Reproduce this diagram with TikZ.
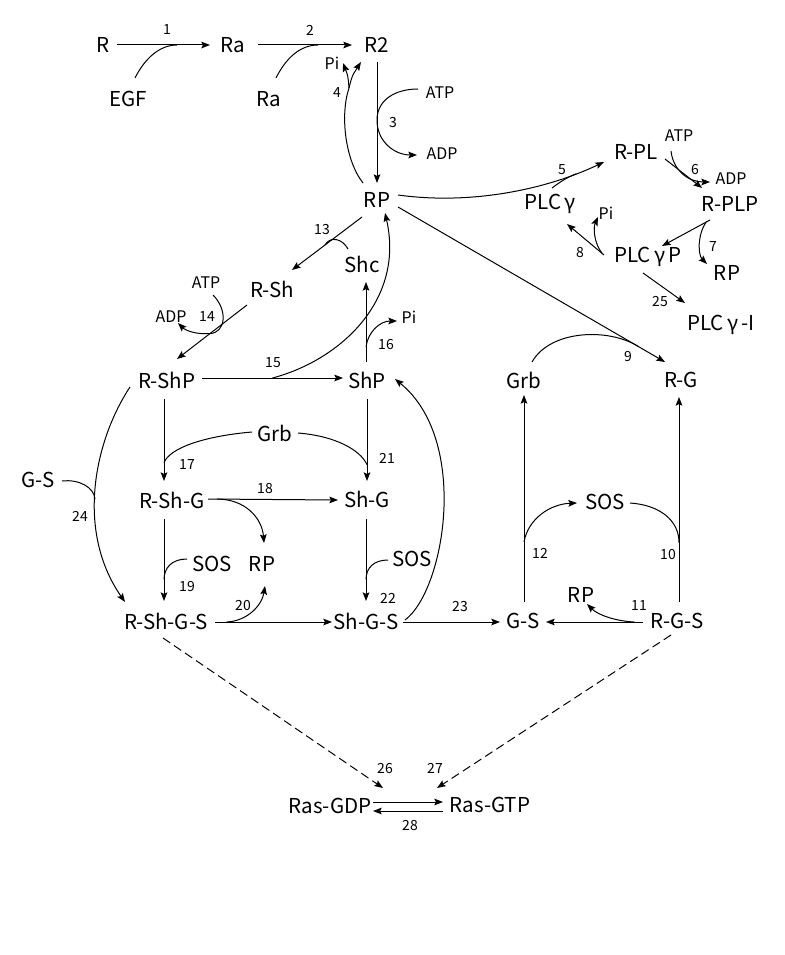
\documentclass[tikz,border=0pt]{standalone}
\usepackage{fontspec}
\setmainfont{Noto Sans CJK JP}
\usetikzlibrary{arrows.meta,calc}
\begin{document}
\begin{tikzpicture}[x=0.75pt,y=-0.75pt,line width=0.75pt,
  >={Stealth[length=6.5pt,width=5pt,inset=1.2pt]},
  big/.style={font=\fontsize{15.4}{18}\selectfont,inner sep=0pt},
  sm/.style={font=\fontsize{12}{14}\selectfont,inner sep=0pt},
  num/.style={font=\fontsize{10.5}{12}\selectfont,inner sep=0pt},
  dsh/.style={->,dash pattern=on 6.5pt off 3.5pt}]
\path[use as bounding box,fill=white] (0,0) rectangle (784,955);
% species
\node[big] (R) at (103,45) {R};
\node[big] (Ra1) at (233,45) {Ra};
\node[big] (R2) at (377,45) {R2};
\node[big] (EGF) at (128,99) {EGF};
\node[big] (Ra2) at (269,99) {Ra};
\node[sm] (ATP1) at (440,93) {ATP};
\node[sm] (ADP1) at (442,154) {ADP};
\node[sm] (Pi1) at (332,63) {Pi};
\node[big] (RP) at (377,200) {RP};
\node[big] (RPL) at (636,152) {R-PL};
\node[sm] (ATP2) at (679,136) {ATP};
\node[sm] (ADP2) at (731,179) {ADP};
\node[big] (RPLP) at (730,204) {R-PLP};
\node[big] (PLCg) at (550,204) {PLC\,γ};
\node[sm] (Pi2) at (606,213) {Pi};
\node[big] (PLCgP) at (648,257) {PLC\,γ\,P};
\node[big] (RP2) at (727,273) {RP};
\node[big] (PLCgI) at (721,325) {PLC\,γ\,-I};
\node[big] (Shc) at (362,264) {Shc};
\node[big] (RSh) at (272,289) {R-Sh};
\node[sm] (ATP3) at (206,283) {ATP};
\node[sm] (ADP3) at (171,317) {ADP};
\node[sm] (Pi3) at (409,317) {Pi};
\node[big] (RShP) at (167,380) {R-ShP};
\node[big] (ShP) at (367,380) {ShP};
\node[big] (Grb2) at (524,380) {Grb};
\node[big] (RG) at (681,380) {R-G};
\node[big] (Grb1) at (275,433) {Grb};
\node[big] (GS2) at (38,480) {G-S};
\node[big] (RShG) at (172,500) {R-Sh-G};
\node[big] (ShG) at (367,499) {Sh-G};
\node[big] (SOS3) at (605,502) {SOS};
\node[big] (SOS1) at (212,564) {SOS};
\node[big] (RP3) at (262,564) {RP};
\node[big] (SOS2) at (412,559) {SOS};
\node[big] (RP4) at (581,595) {RP};
\node[big] (RShGS) at (166,621) {R-Sh-G-S};
\node[big] (ShGS) at (366,621) {Sh-G-S};
\node[big] (GS1) at (523,621) {G-S};
\node[big] (RGS) at (677,621) {R-G-S};
\node[big] (RasGDP) at (330,806) {Ras-GDP};
\node[big] (RasGTP) at (490,805) {Ras-GTP};
% reaction numbers
\node[num] (n1) at (167,30) {1};
\node[num] (n2) at (310,30) {2};
\node[num] (n3) at (393,123) {3};
\node[num] (n4) at (337,93) {4};
\node[num] (n5) at (562,170) {5};
\node[num] (n6) at (695,170) {6};
\node[num] (n7) at (713,247) {7};
\node[num] (n8) at (580,253) {8};
\node[num] (n9) at (628,357) {9};
\node[num] (n10) at (668,555) {10};
\node[num] (n11) at (639,606) {11};
\node[num] (n12) at (540,553) {12};
\node[num] (n13) at (322,230) {13};
\node[num] (n14) at (207,317) {14};
\node[num] (n15) at (273,363) {15};
\node[num] (n16) at (386,345) {16};
\node[num] (n17) at (187,465) {17};
\node[num] (n18) at (265,489) {18};
\node[num] (n19) at (187,587) {19};
\node[num] (n20) at (243,606) {20};
\node[num] (n21) at (387,458) {21};
\node[num] (n22) at (388,598) {22};
\node[num] (n23) at (460,607) {23};
\node[num] (n24) at (80,516) {24};
\node[num] (n25) at (660,302) {25};
\node[num] (n26) at (385,768) {26};
\node[num] (n27) at (435,768) {27};
\node[num] (n28) at (410,825) {28};
% 1, 2
\draw[->] ($(R)+(14,0)$) -- coordinate[pos=0.645] (J1) ($(Ra1)+(-23,0)$);
\draw ($(EGF)+(7,-21)$) .. controls +(10,-20) and +(-17,0) .. (J1);
\draw[->] ($(Ra1)+(25,0)$) -- coordinate[pos=0.64] (J2) ($(R2)+(-25,0)$);
\draw ($(Ra2)+(7,-21)$) .. controls +(10,-20) and +(-18,0) .. (J2);
% R2 -> RP, 3
\draw[->] ($(R2)+(0,17)$) -- coordinate[pos=0.48] (J3) ($(RP)+(0,-17)$);
\draw[->] ($(ATP1)+(-22,-4)$) .. controls +(-23,0) and +(0,-20) .. (J3)
  .. controls +(0,22) and +(-22,0) .. ($(ADP1)+(-25,1)$);
% 4
\coordinate (J4) at ($(RP)+(-28,-112)$);
\draw ($(RP)+(-14,-17)$) .. controls +(-18,-23) and +(-9,27) .. (J4);
\draw[->] (J4) .. controls +(-1,-12) .. ($(Pi1)+(11,0)$);
\draw[->] (J4) .. controls +(3,-12) .. ($(R2)+(-16,17)$);
% 5
\draw[->] ($(RP)+(21,-5)$) .. controls +(72,10) and +(-59,28) .. coordinate[pos=0.85] (J5) ($(RPL)+(-32,10)$);
\draw ($(PLCg)+(2,-16)$) .. controls +(8,-6) and +(-10,4) .. (J5);
% 6
\draw[->] ($(RPL)+(29,7)$) -- ($(RPLP)+(-28,-16)$);
\draw[->] ($(ATP2)+(-8,15)$) .. controls +(2,19) and +(-22,0) .. ($(ADP2)+(-21,3)$);
% 7
\draw[->] ($(RPLP)+(-20,16)$) -- coordinate[pos=0.08] (J7) ($(PLCgP)+(14,-11)$);
\draw[->] (J7) .. controls +(-9,13) and +(-9,-9) .. ($(RP2)+(-20,-9)$);
% 8
\draw[->] ($(PLCgP)+(-44,-2)$) -- coordinate[pos=0.05] (J8) ($(PLCg)+(17,20)$);
\draw[->] (J8) .. controls +(-8,-10) and +(-5,11) .. ($(Pi2)+(-8,4)$);
% 25
\draw[->] ($(PLCgP)+(-5,16)$) -- ($(PLCgI)+(-36,-22)$);
% 9
\draw[->] ($(RP)+(21,7)$) -- coordinate[pos=0.9] (J9) ($(RG)+(-16,-18)$);
\draw ($(Grb2)+(8,-18)$) .. controls +(18,-32) and +(-30,-19) .. (J9);
% 13
\draw[->] ($(RP)+(-15,17)$) -- coordinate[pos=0.53] (J13) ($(RSh)+(20,-19)$);
\draw ($(Shc)+(-14,-15)$) .. controls +(-6,-11) and +(5,-9) .. (J13);
% ShP -> Shc, 16
\draw[->] ($(ShP)+(-1,-18)$) -- coordinate[pos=0.19] (J16) ($(Shc)+(4,18)$);
\draw[->] (J16) .. controls +(2,-15) and +(-17,0) .. ($(Pi3)+(-12,4)$);
% 14
\draw[->] ($(RSh)+(-25,16)$) -- coordinate[pos=0.53] (J14) ($(RShP)+(10,-21)$);
\draw[->] ($(ATP3)+(7,12)$) .. controls +(15,15) and +(16,-1) .. (J14)
  .. controls +(-15,1) and +(7,7) .. ($(ADP3)+(7,6)$);
% 15
\draw[->] ($(RShP)+(35,-2)$) -- coordinate[pos=0.5] (J15) ($(ShP)+(-24,-2)$);
\draw[->] (J15) .. controls +(68,-18) and +(20,87) .. ($(RP)+(8,13)$);
% 17, 21
\draw[->] ($(RShP)+(-3,19)$) -- coordinate[pos=0.78] (J17) ($(RShG)+(-8,-19)$);
\draw[->] ($(ShP)+(0,19)$) -- coordinate[pos=0.8] (J21) ($(ShG)+(0,-18)$);
\draw ($(Grb1)+(-23,-1)$) .. controls +(-47,4) and +(5,-15) .. (J17);
\draw ($(Grb1)+(23,0)$) .. controls +(37,3) and +(-7,-15) .. (J21);
% 18
\draw[->] ($(RShG)+(36,-1)$) -- coordinate[pos=0.07] (J18) ($(ShG)+(-29,1)$);
\draw[->] (J18) .. controls +(28,0) and +(-2,-25) .. ($(RP3)+(2,-21)$);
% 19, 22
\draw[->] ($(RShG)+(-8,19)$) -- coordinate[pos=0.74] (J19) ($(RShGS)+(-2,-20)$);
\draw ($(SOS1)+(-25,-5)$) .. controls +(-15,0) and +(0,-12) .. (J19);
\draw[->] ($(ShG)+(-1,20)$) -- coordinate[pos=0.74] (J22) ($(ShGS)+(0,-20)$);
\draw ($(SOS2)+(-24,1)$) .. controls +(-14,0) and +(0,-12) .. (J22);
% 20
\draw[->] ($(RShGS)+(49,1)$) -- coordinate[pos=0.1] (J20) ($(ShGS)+(-34,1)$);
\draw[->] (J20) .. controls +(21,-1) and +(-3,19) .. ($(RP3)+(3,22)$);
% Sh-G-S -> ShP
\draw[->] ($(ShGS)+(39,-1)$) .. controls +(40,-30) and +(75,61) .. ($(ShP)+(28,-1)$);
% 23
\draw[->] ($(ShGS)+(37,1)$) -- ($(GS1)+(-23,1)$);
% 11
\draw[->] ($(RGS)+(-34,1)$) -- coordinate[pos=0.09] (J11) ($(GS1)+(23,1)$);
\draw[->] (J11) .. controls +(-19,-1) and +(11,11) .. ($(RP4)+(6,9)$);
% 12
\draw[->] ($(GS1)+(1,-19)$) -- coordinate[pos=0.29] (J12) ($(Grb2)+(0,15)$);
\draw[->] (J12) .. controls +(4,-23) and +(-27,1) .. ($(SOS3)+(-28,1)$);
% 10
\draw[->] ($(RGS)+(2,-19)$) -- coordinate[pos=0.29] (J10) ($(RG)+(-2,17)$);
\draw ($(SOS3)+(25,1)$) .. controls +(30,2) and +(0,-22) .. (J10);
% 24
\draw[->] ($(RShP)+(-37,7)$) .. controls +(-35,53) and +(-50,-72) .. coordinate[pos=0.55] (J24) ($(RShGS)+(-41,-19)$);
\draw ($(GS2)+(24,1)$) .. controls +(18,-2) and +(-1,-11) .. (J24);
% 26, 27
\draw[dsh] ($(RShGS)+(-3,17)$) -- ($(RasGDP)+(53,-18)$);
\draw[dsh] ($(RGS)+(-6,14)$) -- ($(RasGTP)+(-53,-17)$);
% 28
\draw[->] ($(RasGDP)+(43,-4)$) -- ($(RasGTP)+(-47,-3)$);
\draw[->] ($(RasGTP)+(-47,6)$) -- ($(RasGDP)+(43,5)$);
\end{tikzpicture}
\end{document}
